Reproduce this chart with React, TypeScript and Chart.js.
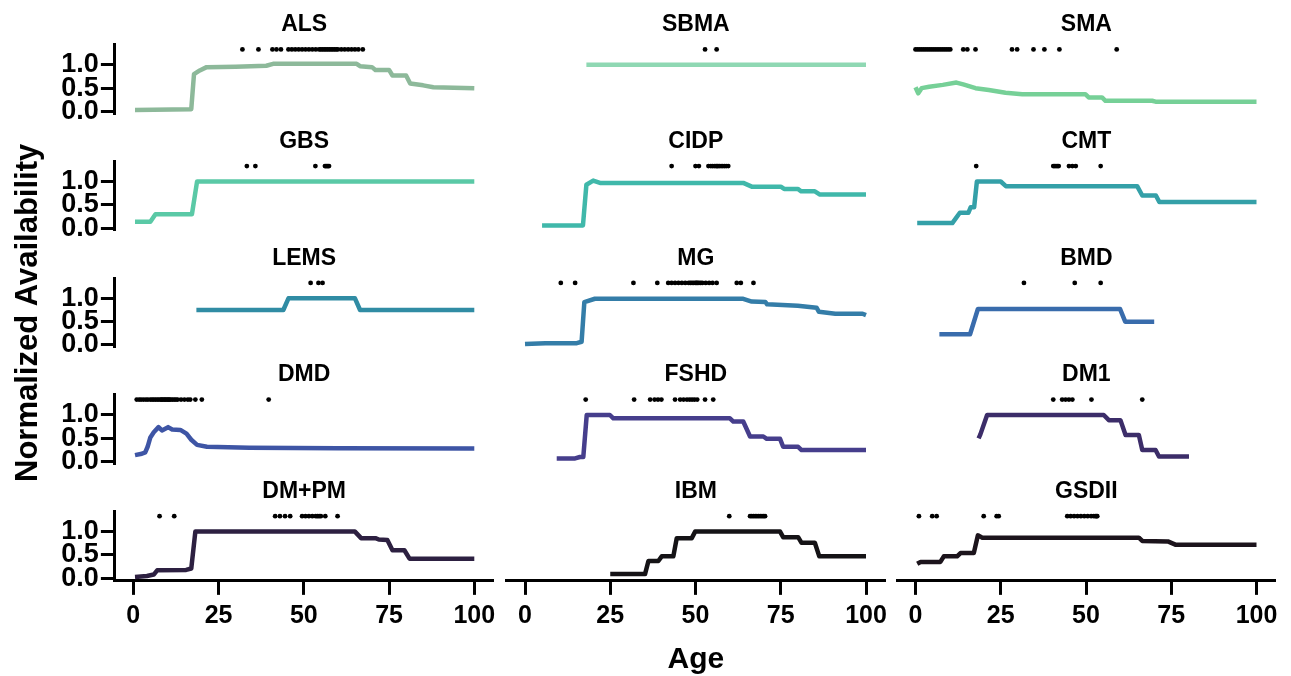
import React, { useEffect, useRef } from "react";
import { Chart, registerables } from "chart.js";

Chart.register(...registerables);

const FONT = "'Liberation Sans', Arial, Helvetica, sans-serif";

// ---------------- data ----------------
const X_TICKS = [0, 25, 50, 75, 100];
const Y_TICKS = [0, 0.5, 1];
const DOT_LEVEL = 1.33;

const ALS_AGE = [0.5, 17, 17.8, 19.5, 21.5, 30, 39, 41, 65.5, 66.5, 70, 71, 75, 76, 80, 81.2, 85, 88, 100];
const ALS_VAL = [0.03, 0.05, 0.8, 0.88, 0.95, 0.96, 0.98, 1.02, 1.02, 0.97, 0.95, 0.89, 0.89, 0.77, 0.77, 0.6, 0.56, 0.52, 0.5];
const ALS_DOTS = [32, 36.7, 40.8, 42, 43.3, 45.5, 46.5, 47.5, 48.5, 49.5, 50.5, 51.5, 52.5, 53.5, 54.5, 55, 55.5, 56, 56.5, 57, 57.5, 58, 58.5, 59, 59.5, 60, 61, 62, 63, 64, 65, 66, 67.3];

const SBMA_AGE = [18, 100];
const SBMA_VAL = [1.0, 1.0];
const SBMA_DOTS = [52.8, 56.2];

const SMA_AGE = [0, 0.8, 1.8, 4, 8, 12, 14, 17.6, 21.5, 26.4, 31.3, 49.8, 50.8, 54.7, 55.7, 69.4, 70.4, 100];
const SMA_VAL = [0.52, 0.39, 0.5, 0.53, 0.57, 0.62, 0.58, 0.5, 0.46, 0.4, 0.37, 0.37, 0.3, 0.3, 0.23, 0.23, 0.21, 0.21];
const SMA_DOTS = [0, 0.6, 1.2, 1.8, 2.4, 3, 3.6, 4.2, 4.8, 5.4, 6, 6.6, 7.2, 7.8, 8.4, 9, 9.6, 10.2, 14, 15.2, 17.6, 28.3, 29.8, 34.6, 37.8, 42.2, 59];

const GBS_AGE = [0.5, 5, 6.5, 17.2, 18.7, 100];
const GBS_VAL = [0.14, 0.14, 0.3, 0.3, 1.0, 1.0];
const GBS_DOTS = [33.3, 35.8, 53.4, 56.2, 56.5, 56.8, 57.1, 57.4];

const CIDP_AGE = [5, 17, 18, 20, 22, 64, 66.5, 75, 76, 80, 81, 85, 86.5, 100];
const CIDP_VAL = [0.06, 0.06, 0.93, 1.02, 0.97, 0.97, 0.89, 0.89, 0.84, 0.84, 0.79, 0.79, 0.72, 0.72];
const CIDP_DOTS = [43, 50, 51, 53.8, 54.5, 55, 55.5, 56, 56.3, 56.6, 57, 57.5, 58, 58.5, 59, 59.6];

const CMT_AGE = [0.5, 10.8, 13, 15.5, 16.2, 17.2, 18, 25, 26.5, 65, 66.5, 70.5, 71.5, 100];
const CMT_VAL = [0.11, 0.11, 0.33, 0.33, 0.45, 0.45, 1.0, 1.0, 0.9, 0.9, 0.7, 0.7, 0.56, 0.56];
const CMT_DOTS = [17.8, 40.4, 40.8, 41.2, 41.6, 42, 45, 46, 47, 54.3];

const LEMS_AGE = [18.5, 44, 45.5, 65, 66.5, 100];
const LEMS_VAL = [0.75, 0.75, 1.0, 1.0, 0.75, 0.75];
const LEMS_DOTS = [52, 54.3, 55.5];

const MG_AGE = [0, 6, 15.2, 16.6, 17.4, 20.5, 64, 66.5, 70.5, 71, 80, 85.5, 86.2, 91, 99, 100];
const MG_VAL = [0.02, 0.04, 0.04, 0.07, 0.92, 0.99, 0.99, 0.93, 0.92, 0.87, 0.84, 0.8, 0.71, 0.67, 0.67, 0.64];
const MG_DOTS = [10.5, 14.7, 31.8, 38.8, 42, 43, 44, 45, 46, 47, 48, 48.5, 49, 49.5, 50, 50.3, 50.6, 51, 51.5, 52, 53, 54, 55, 56.2, 62.1, 63.3, 67];

const BMD_AGE = [7, 16, 18.3, 60, 61.5, 70];
const BMD_VAL = [0.23, 0.23, 0.77, 0.77, 0.5, 0.5];
const BMD_DOTS = [31.8, 46.7, 54.3];

const DMD_AGE = [0.5, 2.5, 3.5, 4.2, 5, 6, 7.4, 8.4, 10.2, 11.4, 13.8, 15.6, 17, 18.7, 21.6, 34, 60, 100];
const DMD_VAL = [0.14, 0.17, 0.2, 0.32, 0.52, 0.63, 0.74, 0.67, 0.74, 0.69, 0.68, 0.6, 0.47, 0.36, 0.32, 0.3, 0.29, 0.28];
const DMD_DOTS = [1, 1.7, 2.3, 3, 3.7, 4.3, 5, 5.5, 6, 6.5, 7, 7.5, 8, 8.3, 8.6, 9, 9.3, 9.6, 10, 10.3, 10.6, 11, 11.5, 12, 12.5, 13, 14, 15, 16, 16.7, 18.2, 20.1, 39.7];

const FSHD_AGE = [9.3, 14.7, 16.1, 17.1, 18.1, 24.9, 25.9, 60.1, 61.1, 64, 66, 69.9, 70.9, 74.8, 75.7, 80.1, 81.1, 100];
const FSHD_VAL = [0.07, 0.07, 0.1, 0.1, 1.0, 1.0, 0.93, 0.93, 0.86, 0.86, 0.54, 0.54, 0.49, 0.49, 0.32, 0.32, 0.25, 0.25];
const FSHD_DOTS = [17.8, 32, 36.7, 38, 39, 40, 44, 45.5, 46.5, 47.5, 48.3, 49, 49.7, 50.5, 52.8, 55.2];

const DM1_AGE = [18.5, 19, 21, 55.2, 56.7, 60.1, 61.6, 65.5, 66.5, 70.4, 71.4, 80.2];
const DM1_VAL = [0.5, 0.58, 1.0, 1.0, 0.89, 0.89, 0.57, 0.57, 0.25, 0.25, 0.11, 0.11];
const DM1_DOTS = [40.4, 43, 44, 45, 46, 51.6, 66.5];

const DMPM_AGE = [0.5, 4, 6, 7, 15.5, 17, 18.2, 65, 66.8, 71, 72, 74.5, 76, 79.5, 81, 100];
const DMPM_VAL = [0.03, 0.05, 0.08, 0.17, 0.18, 0.21, 1.0, 1.0, 0.86, 0.86, 0.83, 0.82, 0.6, 0.6, 0.42, 0.42];
const DMPM_DOTS = [7.7, 12, 41.6, 43, 44.5, 46, 49.5, 50.5, 51.5, 52.5, 53.5, 54, 54.5, 55, 56.3, 59.9];

const IBM_AGE = [25, 35.2, 36.2, 39.1, 40.1, 43.5, 44.5, 48.9, 49.9, 74.8, 75.7, 80.1, 81.1, 85, 86.3, 100];
const IBM_VAL = [0.09, 0.09, 0.37, 0.37, 0.47, 0.47, 0.86, 0.86, 1.0, 1.0, 0.88, 0.88, 0.76, 0.76, 0.47, 0.47];
const IBM_DOTS = [59.9, 66, 66.5, 67, 67.5, 68, 68.5, 69, 69.5, 70, 70.4];

const GSDII_AGE = [0.5, 1.5, 7.3, 8.3, 12.2, 13.2, 17.1, 18.3, 19.6, 65.5, 66.5, 74, 76.2, 100];
const GSDII_VAL = [0.31, 0.35, 0.35, 0.47, 0.47, 0.54, 0.54, 0.92, 0.87, 0.87, 0.8, 0.79, 0.72, 0.72];
const GSDII_DOTS = [1, 4.9, 6.2, 20, 23.8, 24.4, 44.5, 45.5, 46.5, 47.5, 48.5, 49.5, 50.5, 51.5, 52.3, 52.8, 53.1, 53.3];

type PanelDef = { name: string; color: string; ages: number[]; vals: number[]; dots: number[] };

const PANELS: PanelDef[] = [
  { name: "ALS", color: "#8db99a", ages: ALS_AGE, vals: ALS_VAL, dots: ALS_DOTS },
  { name: "SBMA", color: "#8fd8b3", ages: SBMA_AGE, vals: SBMA_VAL, dots: SBMA_DOTS },
  { name: "SMA", color: "#76d097", ages: SMA_AGE, vals: SMA_VAL, dots: SMA_DOTS },
  { name: "GBS", color: "#5ac9a6", ages: GBS_AGE, vals: GBS_VAL, dots: GBS_DOTS },
  { name: "CIDP", color: "#40b8aa", ages: CIDP_AGE, vals: CIDP_VAL, dots: CIDP_DOTS },
  { name: "CMT", color: "#34a0a8", ages: CMT_AGE, vals: CMT_VAL, dots: CMT_DOTS },
  { name: "LEMS", color: "#308ca4", ages: LEMS_AGE, vals: LEMS_VAL, dots: LEMS_DOTS },
  { name: "MG", color: "#347da8", ages: MG_AGE, vals: MG_VAL, dots: MG_DOTS },
  { name: "BMD", color: "#396cac", ages: BMD_AGE, vals: BMD_VAL, dots: BMD_DOTS },
  { name: "DMD", color: "#3e55a5", ages: DMD_AGE, vals: DMD_VAL, dots: DMD_DOTS },
  { name: "FSHD", color: "#463e8c", ages: FSHD_AGE, vals: FSHD_VAL, dots: FSHD_DOTS },
  { name: "DM1", color: "#3c2d69", ages: DM1_AGE, vals: DM1_VAL, dots: DM1_DOTS },
  { name: "DM+PM", color: "#2d2041", ages: DMPM_AGE, vals: DMPM_VAL, dots: DMPM_DOTS },
  { name: "IBM", color: "#151316", ages: IBM_AGE, vals: IBM_VAL, dots: IBM_DOTS },
  { name: "GSDII", color: "#1c141c", ages: GSDII_AGE, vals: GSDII_VAL, dots: GSDII_DOTS },
];

// ---------------- layout ----------------
const PAGE_W = 1291;
const PAGE_H = 676;
const COL_X0 = [133.3, 525, 915.5];
const PX_PER_YEAR = 3.41;
const X_MIN = -5.4;
const X_MAX = 105.6;
const ROW_Y0 = [111.5, 228.2, 345, 461.7, 578.3];
const PX_PER_UNIT = 46.7;
const Y_MIN = -0.055;
const Y_MAX = 1.43;
const TITLE_SIZE = 23;
const TITLE_GAP = 6.2;

function Panel({ index }: { index: number }) {
  const ref = useRef<HTMLCanvasElement>(null);
  const p = PANELS[index];
  const col = index % 3;
  const row = Math.floor(index / 3);
  const isLeft = col === 0;
  const isBottom = row === 4;
  const hasYTitle = p.name === "LEMS";
  const hasXTitle = p.name === "IBM";

  const CL = COL_X0[col] + X_MIN * PX_PER_YEAR;
  const CR = COL_X0[col] + X_MAX * PX_PER_YEAR;
  const CT = ROW_Y0[row] - Y_MAX * PX_PER_UNIT;
  const CB = ROW_Y0[row] - Y_MIN * PX_PER_UNIT;
  const titleBlock = TITLE_SIZE * 1.2 + TITLE_GAP;

  const canvasLeft = isLeft ? 0 : Math.floor(CL - 4);
  const padLeft = isLeft ? 0 : CL - canvasLeft;
  const width = Math.ceil(CR + 30 - canvasLeft);
  const padRight = width - (CR - canvasLeft);
  const nominalTop = hasYTitle ? 112 : 2;
  const canvasTop = Math.floor(CT - titleBlock - nominalTop);
  const padTop = CT - titleBlock - canvasTop;
  const xAxisH = isBottom ? PAGE_H - CB : 0;
  const nominalBottom = isBottom ? 0 : hasYTitle ? 150 : 20;
  const height = isBottom ? PAGE_H - canvasTop : Math.ceil(CB + nominalBottom - canvasTop);
  const padBottom = isBottom ? 0 : height - (CB - canvasTop);

  useEffect(() => {
    if (!ref.current) return;
    const chart = new Chart(ref.current, {
      type: "line",
      data: {
        datasets: [
          {
            data: p.ages.map((a, i) => ({ x: a, y: p.vals[i] })),
            borderColor: p.color,
            backgroundColor: p.color,
            borderWidth: 4.5,
            pointRadius: 0,
            fill: false,
            tension: 0,
            borderJoinStyle: "round",
            borderCapStyle: "butt",
            order: 2,
          },
          {
            data: p.dots.map((a) => ({ x: a, y: DOT_LEVEL })),
            showLine: false,
            pointRadius: 2.4,
            pointBackgroundColor: "#000",
            pointBorderWidth: 0,
            borderColor: "#000",
            order: 1,
          },
        ],
      } as any,
      options: {
        responsive: false,
        animation: false,
        devicePixelRatio: 1,
        events: [],
        layout: { padding: { left: padLeft, right: padRight, top: padTop, bottom: padBottom } },
        plugins: {
          legend: { display: false },
          tooltip: { enabled: false },
          title: {
            display: true,
            text: p.name,
            fullSize: false,
            color: "#000",
            font: { family: FONT, size: TITLE_SIZE, weight: "bold", lineHeight: 1.2 },
            padding: { top: 0, bottom: TITLE_GAP },
          },
        },
        scales: {
          x: {
            type: "linear",
            min: X_MIN,
            max: X_MAX,
            display: isBottom,
            afterBuildTicks: (s: any) => {
              s.ticks = X_TICKS.map((v) => ({ value: v }));
            },
            afterFit: (s: any) => {
              if (isBottom) s.height = xAxisH;
            },
            ticks: {
              autoSkip: false,
              maxRotation: 0,
              color: "#000",
              padding: 6,
              font: { family: FONT, size: 25, weight: "bold", lineHeight: 1.2 },
              callback: (v: any) => String(v),
            },
            grid: { drawOnChartArea: false, tickLength: 14, tickWidth: 3, tickColor: "#000" },
            border: { display: true, width: 3, color: "#000" },
            title: {
              display: hasXTitle,
              text: "Age",
              color: "#000",
              font: { family: FONT, size: 30, weight: "bold", lineHeight: 1 },
              padding: { top: 0, bottom: 1 },
            },
          },
          y: {
            type: "linear",
            min: Y_MIN,
            max: Y_MAX,
            display: isLeft,
            afterBuildTicks: (s: any) => {
              s.ticks = Y_TICKS.map((v) => ({ value: v }));
            },
            afterFit: (s: any) => {
              if (isLeft) s.width = CL;
            },
            ticks: {
              autoSkip: false,
              color: "#000",
              padding: 2,
              font: { family: FONT, size: 27, weight: "bold", lineHeight: 1 },
              callback: (v: any) => Number(v).toFixed(1),
            },
            grid: { drawOnChartArea: false, tickLength: 14, tickWidth: 3, tickColor: "#000" },
            border: { display: true, width: 3, color: "#000" },
            title: {
              display: hasYTitle,
              text: "Normalized Availability",
              color: "#000",
              font: { family: FONT, size: 31, weight: "bold", lineHeight: 1.2 },
              padding: { top: 9.4, bottom: 0 },
            },
          },
        },
      } as any,
    });
    return () => chart.destroy();
  }, [index]);

  return (
    <canvas
      ref={ref}
      width={width}
      height={height}
      style={{ position: "absolute", left: canvasLeft, top: canvasTop, width, height }}
    />
  );
}

export default function App() {
  return (
    <div
      style={{
        position: "absolute",
        left: 0,
        top: 0,
        width: PAGE_W,
        height: PAGE_H,
        overflow: "hidden",
        background: "#fff",
      }}
    >
      {PANELS.map((_, i) => (
        <Panel key={i} index={i} />
      ))}
    </div>
  );
}
